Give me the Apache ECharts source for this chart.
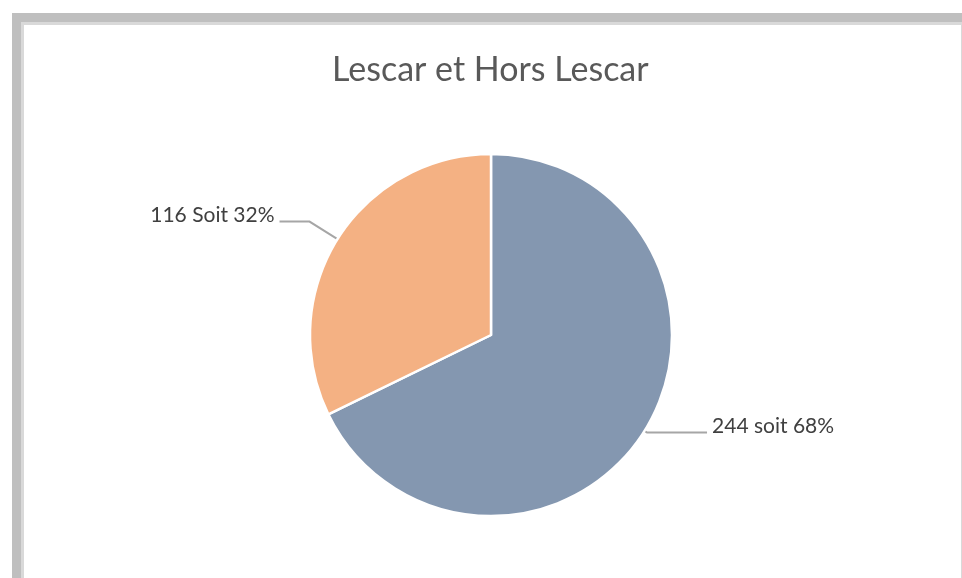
<!DOCTYPE html>
<html>
<head>
	<meta charset="utf-8">
	<title>Lescar et Hors Lescar</title>
	<script src="https://cdn.jsdelivr.net/npm/echarts@6/dist/echarts.min.js"></script>
	<style>
		html, body { margin: 0; padding: 0; background: #fff; }
		#outer { position: absolute; left: 12px; top: 13px; width: 950px; height: 565px; background: #bfbfbf; }
		#inner { position: absolute; left: 21px; top: 22px; width: 937px; height: 553px; background: #fff;
			border-left: 3px solid #d9d9d9; border-top: 3px solid #d9d9d9; border-right: 2px solid #d9d9d9; border-bottom: 2px solid #d9d9d9; }
		#main { position: absolute; left: 0; top: 0; width: 962px; height: 578px; }
	</style>
</head>
<body>
<div id="outer"></div>
<div id="inner"></div>
<div id="main"></div>
<script>
	// données du graphique
	var categories = ['Lescar', 'Hors Lescar'];
	var values = [244, 116];
	var labels = ['244 soit 68%', '116 Soit 32%'];
	var colors = ['#8497b0', '#f4b183'];
	// longueurs des traits de rappel (segment radial, segment horizontal)
	var lineLen = [3, 33];
	var lineLen2 = [60, 30];

	var chart = echarts.init(document.getElementById('main'));

	var pieData = [];
	for (var i = 0; i < categories.length; i++) {
		pieData.push({
			name: categories[i],
			value: values[i],
			itemStyle: { color: colors[i] },
			label: { formatter: labels[i] },
			labelLine: { length: lineLen[i], length2: lineLen2[i] }
		});
	}

	chart.setOption({
		animation: false,
		title: {
			text: 'Lescar et Hors Lescar',
			left: 327,
			top: 48,
			textStyle: { fontFamily: 'Lato', fontSize: 34, fontWeight: 'normal', color: '#595959' }
		},
		series: [{
			type: 'pie',
			center: [491, 335],
			radius: [0, 181],
			startAngle: 90,
			clockwise: true,
			data: pieData,
			itemStyle: { borderColor: '#fff', borderWidth: 2.5 },
			label: {
				show: true,
				position: 'outside',
				fontFamily: 'Lato',
				fontSize: 21,
				color: '#404040',
				distanceToLabelLine: 5
			},
			labelLine: {
				show: true,
				smooth: false,
				lineStyle: { color: '#a6a6a6', width: 2 }
			},
			labelLayout: function (params) {
				return { dy: -6 };
			}
		}]
	});
	window.onresize = chart.resize;
</script>
</body>
</html>
